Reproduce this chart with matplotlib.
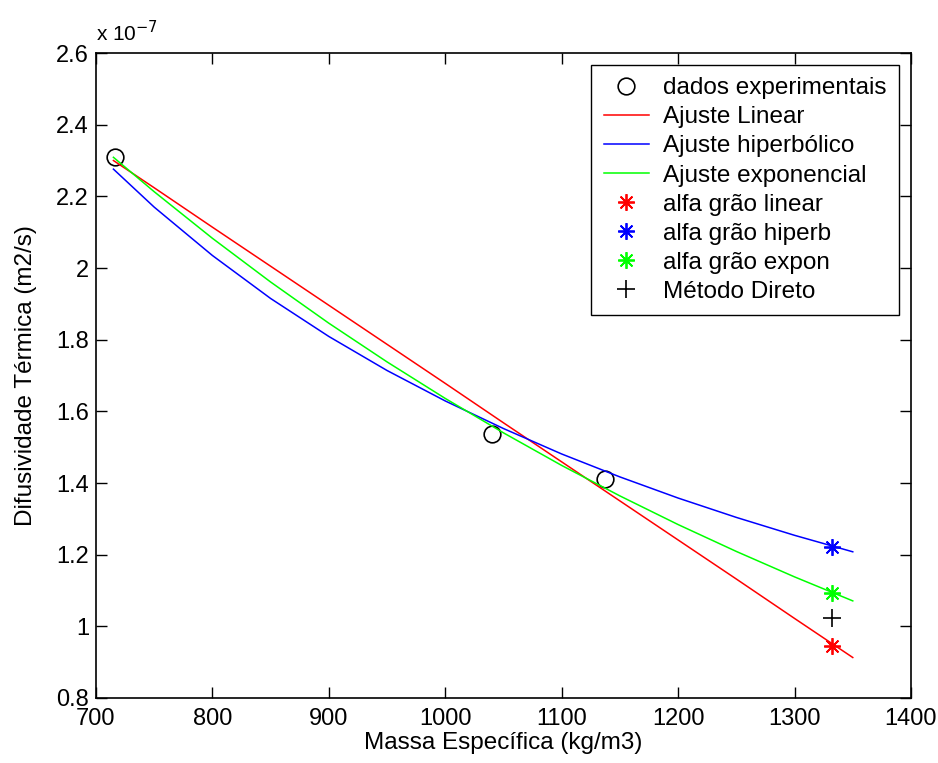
import numpy as np
import matplotlib as mpl
mpl.use('Agg')
import matplotlib.pyplot as plt
from matplotlib.ticker import FuncFormatter, MultipleLocator


plt.rcParams['font.family'] = ['Liberation Sans', 'DejaVu Sans']

# y values are in units of 1e-7 m2/s
# experimental data
rho_exp = [716, 1040, 1137]
alpha_exp = [2.31, 1.537, 1.411]

# fitted curves
rho_fit = [715, 750, 800, 850, 900, 950, 1000, 1050, 1100, 1150, 1200, 1250, 1300, 1350]
alpha_linear = [2.300, 2.224, 2.114, 2.005, 1.896, 1.787, 1.678, 1.568, 1.459, 1.350,
                1.241, 1.132, 1.022, 0.913]
alpha_hiperb = [2.276, 2.170, 2.035, 1.915, 1.809, 1.714, 1.629, 1.552, 1.481, 1.417,
                1.358, 1.304, 1.254, 1.208]
alpha_expon = [2.309, 2.213, 2.083, 1.961, 1.846, 1.738, 1.636, 1.540, 1.449, 1.364,
               1.284, 1.209, 1.138, 1.071]

# grain values
rho_grao = 1332
alpha_grao_linear = 0.945
alpha_grao_hiperb = 1.222
alpha_grao_expon = 1.092
alpha_direto = 1.022

legend_labels = [
    'dados experimentais',
    'Ajuste Linear',
    'Ajuste hiperbólico',
    'Ajuste exponencial',
    'alfa grão linear',
    'alfa grão hiperb',
    'alfa grão expon',
    'Método Direto',
]

GREEN = (0, 1, 0)
ASTERISK = (8, 2, 0)


def draw_difusividade(save_fig=False):

    fig = plt.figure(figsize=(9.38, 7.63), dpi=100)
    ax = fig.add_axes([0.1023, 0.0852, 0.8689, 0.8453])

    lw = 1.1
    h_exp, = ax.plot(rho_exp, alpha_exp, 'o', color='k', markerfacecolor='none',
                     markersize=12, markeredgewidth=1.2)
    h_lin, = ax.plot(rho_fit, alpha_linear, '-', color='r', linewidth=lw)
    h_hip, = ax.plot(rho_fit, alpha_hiperb, '-', color='b', linewidth=lw)
    h_exn, = ax.plot(rho_fit, alpha_expon, '-', color=GREEN, linewidth=lw)

    star_kw = dict(markersize=12, markeredgewidth=1.3, linestyle='none')
    h_s1, = ax.plot(rho_grao, alpha_grao_linear, marker=ASTERISK, color='r', **star_kw)
    h_s2, = ax.plot(rho_grao, alpha_grao_hiperb, marker=ASTERISK, color='b', **star_kw)
    h_s3, = ax.plot(rho_grao, alpha_grao_expon, marker=ASTERISK, color=GREEN, **star_kw)
    h_dir, = ax.plot(rho_grao, alpha_direto, '+', color='k', markersize=13,
                     markeredgewidth=1.2)

    ax.set_xlim(700, 1400)
    ax.set_ylim(0.8, 2.6)
    ax.xaxis.set_major_locator(MultipleLocator(100))
    ax.yaxis.set_major_locator(MultipleLocator(0.2))
    ax.yaxis.set_major_formatter(FuncFormatter(lambda v, p: '%g' % round(v, 2)))

    ax.tick_params(direction='in', length=8, width=1, top=True, right=True,
                   labelsize=17)
    ax.tick_params(axis='x', pad=7)
    ax.tick_params(axis='y', pad=5)
    for sp in ax.spines.values():
        sp.set_linewidth(1.2)

    ax.set_xlabel('Massa Específica (kg/m3)', fontsize=17.5, labelpad=2)
    ax.set_ylabel('Difusividade Térmica (m2/s)', fontsize=17.5, labelpad=14)
    ax.text(0.0, 1.012, r'x 10$^{-7}$', transform=ax.transAxes, fontsize=15,
            ha='left', va='bottom')

    handles = [h_exp, h_lin, h_hip, h_exn, h_s1, h_s2, h_s3, h_dir]
    leg = ax.legend(handles, legend_labels, loc='upper right', fontsize=17.5,
                    fancybox=False, framealpha=1, edgecolor='k',
                    borderaxespad=0.5, borderpad=0.5, handlelength=1.85,
                    handletextpad=0.6, labelspacing=0.29)
    leg.get_frame().set_linewidth(1.0)

    if save_fig:
        plt.savefig('out.png', dpi=100)

    return fig, ax


if __name__ == '__main__':

    fig, ax = draw_difusividade(save_fig=True)
